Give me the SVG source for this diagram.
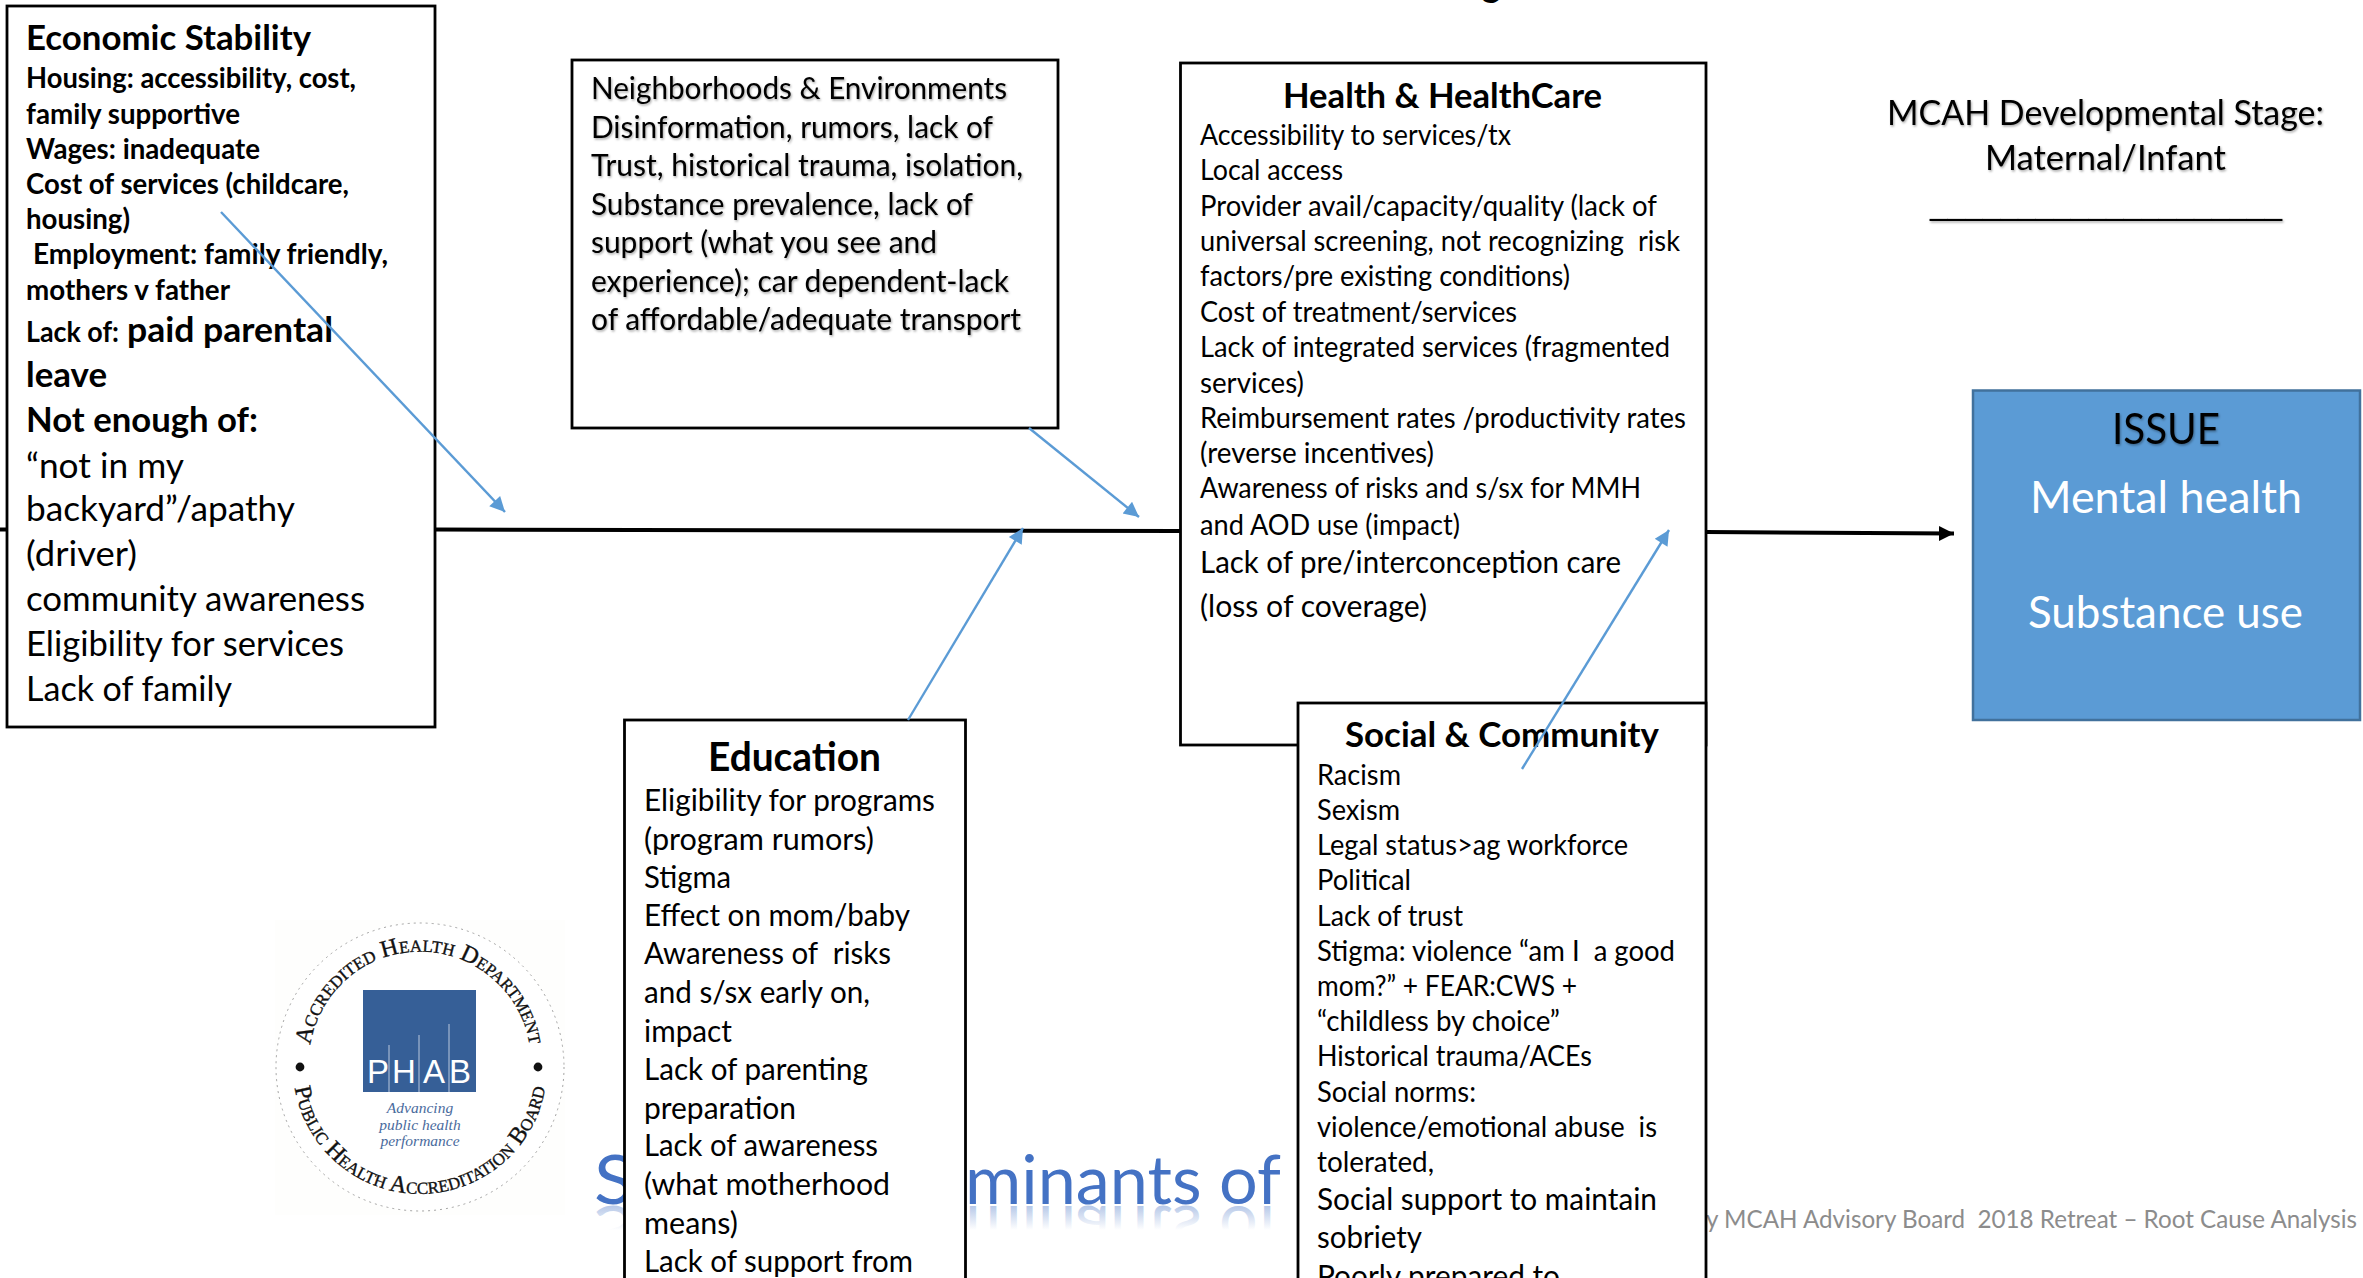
<svg xmlns="http://www.w3.org/2000/svg" width="2363" height="1278" viewBox="0 0 2363 1278">
<style>
text{font-family:"Lato","Carlito","Liberation Sans",sans-serif;fill:#000;white-space:pre}
.box{fill:#fff;stroke:#000;stroke-width:2.8}
.r27{font-size:28px}
.b27{font-size:28px;font-weight:700}
.r29{font-size:30px}
.r33{font-size:34px}
.b33{font-size:35px;font-weight:700}
.b38{font-size:40px;font-weight:700}
.t34{font-size:35px}
.rule{font-family:"Liberation Sans",sans-serif;font-size:34px}
.shadow{filter:url(#soft)}
.white{fill:#fff;font-size:44px}
.blue{stroke:#5B9BD5;stroke-width:2.4;fill:none;marker-end:url(#blueHead)}
.spine{stroke:#000;stroke-width:4;fill:none}
.seal{font-family:"Liberation Serif",serif;font-variant:small-caps;font-size:24px;fill:#111;stroke:#111;stroke-width:0.35}
.tag{font-family:"Liberation Serif",serif;font-style:italic;font-size:15.5px;fill:#4a6b9d;text-anchor:middle}
.phab{font-family:"Liberation Sans",sans-serif;font-size:33px;fill:#fff;text-anchor:middle}
.title{font-size:68px;fill:#4472C4}
.mirror{font-size:68px;fill:url(#fade)}
.foot{font-size:25px;fill:#8c8c8c}
</style>
<defs>
<filter id="soft" x="-5%" y="-20%" width="110%" height="150%"><feDropShadow dx="1" dy="1.5" stdDeviation="0.9" flood-color="#000" flood-opacity="0.35"/></filter>
<marker id="blueHead" viewBox="0 0 10 10" refX="10" refY="5" markerWidth="18" markerHeight="15" markerUnits="userSpaceOnUse" orient="auto"><path d="M0 0L10 5L0 10Z" fill="#5B9BD5"/></marker>
<marker id="blackHead" viewBox="0 0 10 10" refX="10" refY="5" markerWidth="15" markerHeight="18" markerUnits="userSpaceOnUse" orient="auto"><path d="M0 0L10 5L0 10Z" fill="#000"/></marker>
<linearGradient id="fade" gradientUnits="userSpaceOnUse" x1="0" y1="1205" x2="0" y2="1180"><stop offset="0" stop-color="#4472C4" stop-opacity="0.4"/><stop offset="1" stop-color="#4472C4" stop-opacity="0"/></linearGradient>
<path id="sealTop" d="M310.7 1082A111 111 0 1 1 529.3 1082"/>
<path id="sealBottom" d="M294.6 1087A127 127 0 0 0 545.4 1087"/>
</defs>
<rect width="2363" height="1278" fill="#fff"/>

<g id="title-behind">
<text class="b33" x="1482" y="-3">g</text>
<text class="title" x="594" y="1204" textLength="40" lengthAdjust="spacingAndGlyphs">S</text>
<text class="title" x="965" y="1204" textLength="316" lengthAdjust="spacingAndGlyphs">minants of</text>
<g transform="translate(0,2410) scale(1,-1)">
<text class="mirror" x="594" y="1204" textLength="40" lengthAdjust="spacingAndGlyphs">S</text>
<text class="mirror" x="965" y="1204" textLength="316" lengthAdjust="spacingAndGlyphs">minants of</text>
</g>
<text class="foot" x="1706" y="1228" textLength="651" lengthAdjust="spacingAndGlyphs">y MCAH Advisory Board  2018 Retreat – Root Cause Analysis</text>
</g>

<g id="phab-logo">
<rect x="275" y="920" width="290" height="295" fill="#fefefd"/>
<circle cx="420" cy="1067" r="144" fill="#fff" stroke="#999" stroke-width="0.9" stroke-dasharray="2 4"/>
<rect x="363" y="990" width="113" height="102" fill="#365F97"/>
<path d="M389 1045V1092M419 1035V1092M449 1024V1092" stroke="#b9c8dc" stroke-width="1"/>
<text class="phab" x="378" y="1083">P</text>
<text class="phab" x="404" y="1083">H</text>
<text class="phab" x="434" y="1083">A</text>
<text class="phab" x="460" y="1083">B</text>
<text class="tag" x="420" y="1113">Advancing</text>
<text class="tag" x="420" y="1130">public health</text>
<text class="tag" x="420" y="1146">performance</text>
<text class="seal"><textPath href="#sealTop" startOffset="50%" text-anchor="middle">Accredited Health Department</textPath></text>
<text class="seal"><textPath href="#sealBottom" startOffset="50%" text-anchor="middle">Public Health Accreditation Board</textPath></text>
<circle cx="300" cy="1067" r="4.4" fill="#111"/>
<circle cx="538" cy="1067" r="4.4" fill="#111"/>
</g>

<g id="economic-stability">
<rect class="box" x="7" y="6" width="428" height="721"/>
<text class="b33" x="26" y="50" textLength="285" lengthAdjust="spacingAndGlyphs">Economic Stability</text>
<text class="b27" x="26" y="88" textLength="330" lengthAdjust="spacingAndGlyphs">Housing: accessibility, cost,</text>
<text class="b27" x="26" y="124" textLength="214" lengthAdjust="spacingAndGlyphs">family supportive</text>
<text class="b27" x="26" y="159" textLength="234" lengthAdjust="spacingAndGlyphs">Wages: inadequate</text>
<text class="b27" x="26" y="194" textLength="323" lengthAdjust="spacingAndGlyphs">Cost of services (childcare,</text>
<text class="b27" x="26" y="229" textLength="104" lengthAdjust="spacingAndGlyphs">housing)</text>
<text class="b27" x="33" y="264" textLength="355" lengthAdjust="spacingAndGlyphs">Employment: family friendly,</text>
<text class="b27" x="26" y="300" textLength="204" lengthAdjust="spacingAndGlyphs">mothers v father</text>
<text class="b27" x="26" y="342" textLength="93" lengthAdjust="spacingAndGlyphs">Lack of:</text>
<text class="b33" x="127" y="342" textLength="206" lengthAdjust="spacingAndGlyphs">paid parental</text>
<text class="b33" x="26" y="387" textLength="81" lengthAdjust="spacingAndGlyphs">leave</text>
<text class="b33" x="26" y="432" textLength="232" lengthAdjust="spacingAndGlyphs">Not enough of:</text>
<text class="r33" x="26" y="478" textLength="158" lengthAdjust="spacingAndGlyphs">“not in my</text>
<text class="r33" x="26" y="521" textLength="269" lengthAdjust="spacingAndGlyphs">backyard”/apathy</text>
<text class="r33" x="26" y="566" textLength="111" lengthAdjust="spacingAndGlyphs">(driver)</text>
<text class="r33" x="26" y="611" textLength="339" lengthAdjust="spacingAndGlyphs">community awareness</text>
<text class="r33" x="26" y="656" textLength="318" lengthAdjust="spacingAndGlyphs">Eligibility for services</text>
<text class="r33" x="26" y="701" textLength="206" lengthAdjust="spacingAndGlyphs">Lack of family</text>
</g>

<g id="neighborhoods">
<rect class="box" x="572" y="60" width="486" height="368"/>
<g class="shadow">
<text class="r29" x="591" y="99" textLength="416" lengthAdjust="spacingAndGlyphs">Neighborhoods &amp; Environments</text>
<text class="r29" x="591" y="138" textLength="402" lengthAdjust="spacingAndGlyphs">Disinformation, rumors, lack of</text>
<text class="r29" x="591" y="176" textLength="432" lengthAdjust="spacingAndGlyphs">Trust, historical trauma, isolation,</text>
<text class="r29" x="591" y="215" textLength="382" lengthAdjust="spacingAndGlyphs">Substance prevalence, lack of</text>
<text class="r29" x="591" y="253" textLength="346" lengthAdjust="spacingAndGlyphs">support (what you see and</text>
<text class="r29" x="591" y="292" textLength="418" lengthAdjust="spacingAndGlyphs">experience); car dependent-lack</text>
<text class="r29" x="591" y="330" textLength="430" lengthAdjust="spacingAndGlyphs">of affordable/adequate transport</text>
</g>
</g>

<g id="health-healthcare">
<rect class="box" x="1180.5" y="63" width="525.5" height="682"/>
<text class="b33" x="1283" y="108" textLength="319" lengthAdjust="spacingAndGlyphs">Health &amp; HealthCare</text>
<text class="r27" x="1200" y="145" textLength="311" lengthAdjust="spacingAndGlyphs">Accessibility to services/tx</text>
<text class="r27" x="1200" y="180" textLength="143" lengthAdjust="spacingAndGlyphs">Local access</text>
<text class="r27" x="1200" y="216" textLength="457" lengthAdjust="spacingAndGlyphs">Provider avail/capacity/quality (lack of</text>
<text class="r27" x="1200" y="251" textLength="480" lengthAdjust="spacingAndGlyphs">universal screening, not recognizing  risk</text>
<text class="r27" x="1200" y="286" textLength="370" lengthAdjust="spacingAndGlyphs">factors/pre existing conditions)</text>
<text class="r27" x="1200" y="322" textLength="317" lengthAdjust="spacingAndGlyphs">Cost of treatment/services</text>
<text class="r27" x="1200" y="357" textLength="470" lengthAdjust="spacingAndGlyphs">Lack of integrated services (fragmented</text>
<text class="r27" x="1200" y="393" textLength="104" lengthAdjust="spacingAndGlyphs">services)</text>
<text class="r27" x="1200" y="428" textLength="486" lengthAdjust="spacingAndGlyphs">Reimbursement rates /productivity rates</text>
<text class="r27" x="1200" y="463" textLength="234" lengthAdjust="spacingAndGlyphs">(reverse incentives)</text>
<text class="r27" x="1200" y="498" textLength="441" lengthAdjust="spacingAndGlyphs">Awareness of risks and s/sx for MMH</text>
<text class="r27" x="1200" y="535" textLength="260" lengthAdjust="spacingAndGlyphs">and AOD use (impact)</text>
<text class="r29" x="1200" y="573" textLength="421" lengthAdjust="spacingAndGlyphs">Lack of pre/interconception care</text>
<text class="r29" x="1200" y="617" textLength="227" lengthAdjust="spacingAndGlyphs">(loss of coverage)</text>
</g>

<g id="education">
<rect class="box" x="624.5" y="720" width="341" height="600"/>
<text class="b38" x="708" y="771" textLength="173" lengthAdjust="spacingAndGlyphs">Education</text>
<text class="r29" x="644" y="811" textLength="291" lengthAdjust="spacingAndGlyphs">Eligibility for programs</text>
<text class="r29" x="644" y="850" textLength="230" lengthAdjust="spacingAndGlyphs">(program rumors)</text>
<text class="r29" x="644" y="888" textLength="87" lengthAdjust="spacingAndGlyphs">Stigma</text>
<text class="r29" x="644" y="926" textLength="266" lengthAdjust="spacingAndGlyphs">Effect on mom/baby</text>
<text class="r29" x="644" y="964" textLength="247" lengthAdjust="spacingAndGlyphs">Awareness of  risks</text>
<text class="r29" x="644" y="1003" textLength="226" lengthAdjust="spacingAndGlyphs">and s/sx early on,</text>
<text class="r29" x="644" y="1042" textLength="88" lengthAdjust="spacingAndGlyphs">impact</text>
<text class="r29" x="644" y="1080" textLength="224" lengthAdjust="spacingAndGlyphs">Lack of parenting</text>
<text class="r29" x="644" y="1119" textLength="152" lengthAdjust="spacingAndGlyphs">preparation</text>
<text class="r29" x="644" y="1156" textLength="234" lengthAdjust="spacingAndGlyphs">Lack of awareness</text>
<text class="r29" x="644" y="1195" textLength="246" lengthAdjust="spacingAndGlyphs">(what motherhood</text>
<text class="r29" x="644" y="1234" textLength="94" lengthAdjust="spacingAndGlyphs">means)</text>
<text class="r29" x="644" y="1272" textLength="269" lengthAdjust="spacingAndGlyphs">Lack of support from</text>
</g>

<g id="social-community">
<rect class="box" x="1298" y="703" width="408" height="620"/>
<text class="b33" x="1345" y="747" textLength="314" lengthAdjust="spacingAndGlyphs">Social &amp; Community</text>
<text class="r27" x="1317" y="785" textLength="84" lengthAdjust="spacingAndGlyphs">Racism</text>
<text class="r27" x="1317" y="820" textLength="83" lengthAdjust="spacingAndGlyphs">Sexism</text>
<text class="r27" x="1317" y="855" textLength="311" lengthAdjust="spacingAndGlyphs">Legal status&gt;ag workforce</text>
<text class="r27" x="1317" y="890" textLength="94" lengthAdjust="spacingAndGlyphs">Political</text>
<text class="r27" x="1317" y="926" textLength="146" lengthAdjust="spacingAndGlyphs">Lack of trust</text>
<text class="r27" x="1317" y="961" textLength="358" lengthAdjust="spacingAndGlyphs">Stigma: violence “am I  a good</text>
<text class="r27" x="1317" y="996" textLength="260" lengthAdjust="spacingAndGlyphs">mom?” + FEAR:CWS +</text>
<text class="r27" x="1317" y="1031" textLength="243" lengthAdjust="spacingAndGlyphs">“childless by choice”</text>
<text class="r27" x="1317" y="1066" textLength="275" lengthAdjust="spacingAndGlyphs">Historical trauma/ACEs</text>
<text class="r27" x="1317" y="1102" textLength="159" lengthAdjust="spacingAndGlyphs">Social norms:</text>
<text class="r27" x="1317" y="1137" textLength="340" lengthAdjust="spacingAndGlyphs">violence/emotional abuse  is</text>
<text class="r27" x="1317" y="1172" textLength="117" lengthAdjust="spacingAndGlyphs">tolerated,</text>
<text class="r29" x="1317" y="1210" textLength="340" lengthAdjust="spacingAndGlyphs">Social support to maintain</text>
<text class="r29" x="1317" y="1248" textLength="105" lengthAdjust="spacingAndGlyphs">sobriety</text>
<text class="r29" x="1317" y="1287" textLength="243" lengthAdjust="spacingAndGlyphs">Poorly prepared to</text>
</g>

<g id="stage-note" class="shadow">
<text class="t34" x="1887" y="125" textLength="437" lengthAdjust="spacingAndGlyphs">MCAH Developmental Stage:</text>
<text class="t34" x="1985" y="170" textLength="241" lengthAdjust="spacingAndGlyphs">Maternal/Infant</text>
<text class="rule" x="1930" y="214" textLength="352" lengthAdjust="spacingAndGlyphs">____________________</text>
</g>

<g id="issue">
<rect x="1973" y="390.5" width="387" height="329.5" fill="#5B9BD5" stroke="#41719C" stroke-width="2.5"/>
<text class="shadow" x="2112" y="444" font-size="42" textLength="108" lengthAdjust="spacingAndGlyphs">ISSUE</text>
<text class="white" x="2030" y="513" textLength="272" lengthAdjust="spacingAndGlyphs">Mental health</text>
<text class="white" x="2028" y="628" textLength="275" lengthAdjust="spacingAndGlyphs">Substance use</text>
</g>

<g id="connectors">
<path class="spine" d="M0 529.5H7"/>
<path class="spine" d="M435 529.5L1180 531"/>
<path class="spine" d="M1706 532L1954 533.5" marker-end="url(#blackHead)"/>
<path class="blue" d="M221 212L505 512"/>
<path class="blue" d="M1029 428L1139 517"/>
<path class="blue" d="M908 720L1023 528"/>
<path class="blue" d="M1522 769L1669 530"/>
</g>
</svg>
